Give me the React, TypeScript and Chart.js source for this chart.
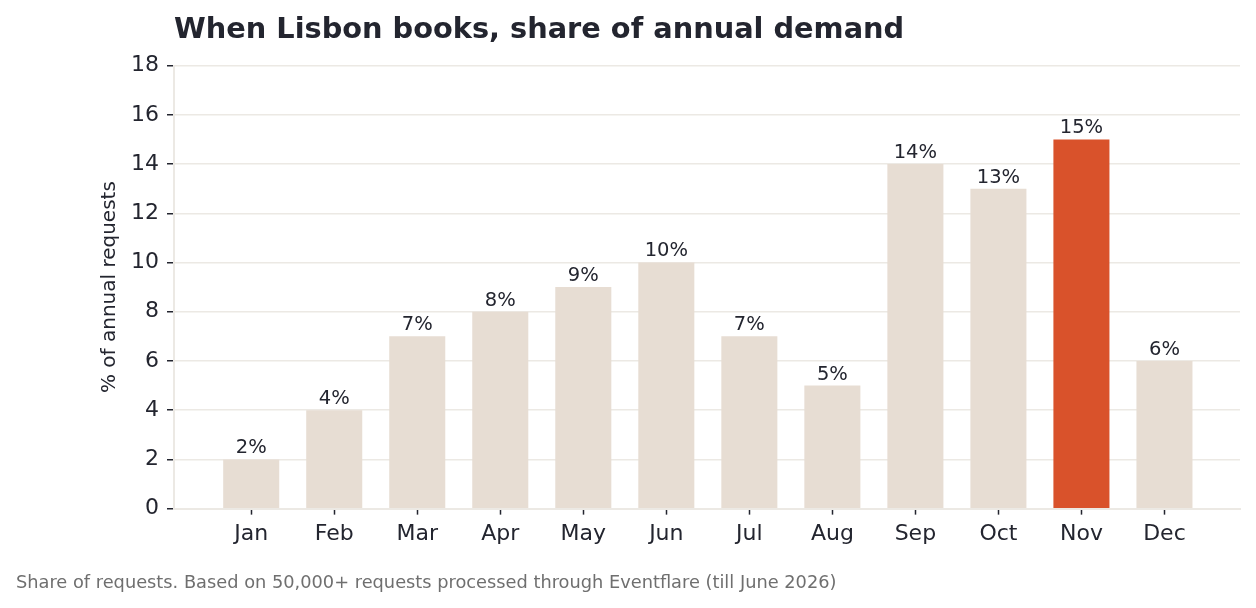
import React, { useEffect, useRef } from "react";
import { Chart, registerables } from "chart.js";

Chart.register(...registerables);

const months = ["Jan", "Feb", "Mar", "Apr", "May", "Jun", "Jul", "Aug", "Sep", "Oct", "Nov", "Dec"];
const shares = [2, 4, 7, 8, 9, 10, 7, 5, 14, 13, 15, 6];
const highlightMonth = "Nov";
const yTicks = [0, 2, 4, 6, 8, 10, 12, 14, 16, 18];
const titleText = "When Lisbon books, share of annual demand";
const yTitleText = "% of annual requests";
const footerText = "Share of requests. Based on 50,000+ requests processed through Eventflare (till June 2026)";

const FONT = "'DejaVu Sans', sans-serif";
const DARK = "#23252f";
const BEIGE = "#e7ddd3";
const ORANGE = "#d9522b";
const GRID = "#ece9e4";

const valueLabels = {
  id: "valueLabels",
  afterDatasetsDraw(chart: any) {
    const ctx = chart.ctx;
    const meta = chart.getDatasetMeta(0);
    ctx.save();
    ctx.font = `19.5px ${FONT}`;
    ctx.fillStyle = DARK;
    ctx.textAlign = "center";
    ctx.textBaseline = "alphabetic";
    meta.data.forEach((bar: any, i: number) => {
      ctx.fillText(`${shares[i]}%`, bar.x, bar.y - 6);
    });
    ctx.restore();
  },
};

export default function App() {
  const ref = useRef<HTMLCanvasElement | null>(null);

  useEffect(() => {
    if (!ref.current) return;
    const chart = new Chart(ref.current, {
      type: "bar",
      data: {
        datasets: [
          {
            data: shares.map((v, i) => ({ x: i, y: v })),
            backgroundColor: months.map((m) => (m === highlightMonth ? ORANGE : BEIGE)),
            borderWidth: 0,
            barPercentage: 0.675,
            categoryPercentage: 1,
          },
        ],
      },
      options: {
        animation: false,
        responsive: true,
        maintainAspectRatio: false,
        layout: { padding: { left: 8, right: 8, top: 0, bottom: 6 } },
        plugins: {
          legend: { display: false },
          tooltip: { enabled: false },
          title: {
            display: true,
            text: titleText,
            align: "start",
            fullSize: false,
            color: DARK,
            font: { family: FONT, size: 28.8, weight: "bold" },
            padding: { top: 5, bottom: 18 },
          },
          subtitle: {
            display: true,
            position: "bottom",
            text: footerText,
            align: "start",
            fullSize: true,
            color: "#6f6f6f",
            font: { family: FONT, size: 17.8 },
            padding: { top: 15, bottom: 0 },
          },
        },
        scales: {
          x: {
            type: "linear",
            offset: false,
            min: -0.93,
            max: 11.91,
            afterBuildTicks: (axis: any) => {
              axis.ticks = months.map((_, i) => ({ value: i }));
            },
            afterFit: (axis: any) => {
              axis.height = 49;
            },
            ticks: {
              color: DARK,
              font: { family: FONT, size: 22 },
              padding: 6,
              autoSkip: false,
              maxRotation: 0,
              callback: (v: any) => months[v as number] ?? "",
            },
            grid: { display: true, offset: false, drawOnChartArea: false, tickColor: DARK, tickLength: 6, tickWidth: 1.5 },
            border: { display: true, color: GRID, width: 2 },
          },
          y: {
            min: 0,
            max: 18,
            afterBuildTicks: (axis: any) => {
              axis.ticks = yTicks.map((v) => ({ value: v }));
            },
            afterFit: (axis: any) => {
              axis.width = 158;
            },
            ticks: {
              color: DARK,
              font: { family: FONT, size: 22 },
              padding: 8,
            },
            grid: { color: GRID, lineWidth: 1.5, tickColor: DARK, tickLength: 7, tickWidth: 1.5 },
            border: { display: true, color: GRID, width: 2 },
            title: {
              display: true,
              text: yTitleText,
              color: DARK,
              font: { family: FONT, size: 20 },
              padding: { top: 82, bottom: 0 },
            },
          },
        },
      },
      plugins: [valueLabels],
    });
    return () => chart.destroy();
  }, []);

  return (
    <div style={{ width: 1240, height: 592, position: "relative" }}>
      <canvas ref={ref} />
    </div>
  );
}
